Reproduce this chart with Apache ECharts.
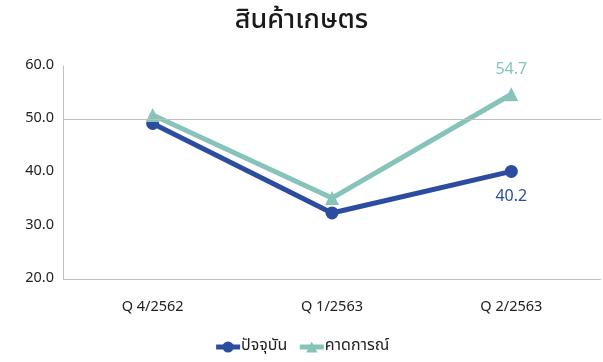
<!DOCTYPE html>
<html><head><meta charset="utf-8">
<script src="https://cdn.jsdelivr.net/npm/echarts@6/dist/echarts.min.js"></script>
<style>html,body{margin:0;padding:0;background:#fff}#c{width:603px;height:362px}</style>
</head><body><div id="c"></div>
<script>
const title = 'สินค้าเกษตร';
const categories = ['Q 4/2562', 'Q 1/2563', 'Q 2/2563'];
const currentName = 'ปัจจุบัน';
const currentValues = [49.2, 32.4, 40.2];
const forecastName = 'คาดการณ์';
const forecastValues = [50.8, 35.2, 54.7];
const yTicks = [20, 30, 40, 50, 60];

const font = "'Noto Sans Thai','Noto Sans','DejaVu Sans',sans-serif";
const blue = '#2c4c9f';
const teal = '#86c4b9';
const chart = echarts.init(document.getElementById('c'));
chart.setOption({
  animation: false,
  title: { text: title, left: 'center', top: 4,
    textStyle: { fontFamily: font, fontSize: 27, fontWeight: 500, color: '#1a1a1a' } },
  legend: { bottom: 2, left: 'center', itemGap: 10, itemWidth: 24, itemHeight: 14,
    lineStyle: { width: 5 },
    textStyle: { fontFamily: font, fontSize: 16, color: '#222', padding: [0, 0, 0, -4] },
    data: [currentName, forecastName] },
  grid: { left: 63, right: 2, top: 66, bottom: 83 },
  xAxis: { type: 'category', data: categories,
    axisLine: { show: false }, axisTick: { show: false },
    axisLabel: { fontFamily: font, fontSize: 14.5, color: '#222', margin: 22 } },
  yAxis: { type: 'value', min: yTicks[0], max: yTicks[yTicks.length - 1], interval: 10,
    axisLine: { show: true, lineStyle: { color: '#bfbfbf' } },
    axisTick: { show: false }, splitLine: { show: false },
    axisLabel: { fontFamily: font, fontSize: 14.5, color: '#222', margin: 9,
      formatter: v => v.toFixed(1) } },
  series: [
    { name: currentName, type: 'line', data: currentValues,
      symbol: 'circle', symbolSize: 13,
      lineStyle: { color: blue, width: 5 }, itemStyle: { color: blue },
      label: { show: true, position: 'bottom', distance: 12, fontFamily: font, fontSize: 16, color: blue,
        formatter: p => p.dataIndex === currentValues.length - 1 ? p.value.toFixed(1) : '' },
      markLine: { silent: true, symbol: 'none', label: { show: false },
        lineStyle: { color: '#bfbfbf', type: 'solid', width: 1 },
        data: [{ yAxis: 50 }, { yAxis: 20 }] },
      z: 3 },
    { name: forecastName, type: 'line', data: forecastValues,
      symbol: 'triangle', symbolSize: 14,
      lineStyle: { color: teal, width: 5 }, itemStyle: { color: teal },
      label: { show: true, position: 'top', distance: 8, fontFamily: font, fontSize: 16, color: teal,
        formatter: p => p.dataIndex === forecastValues.length - 1 ? p.value.toFixed(1) : '' },
      z: 4 }
  ]
});
</script></body></html>
